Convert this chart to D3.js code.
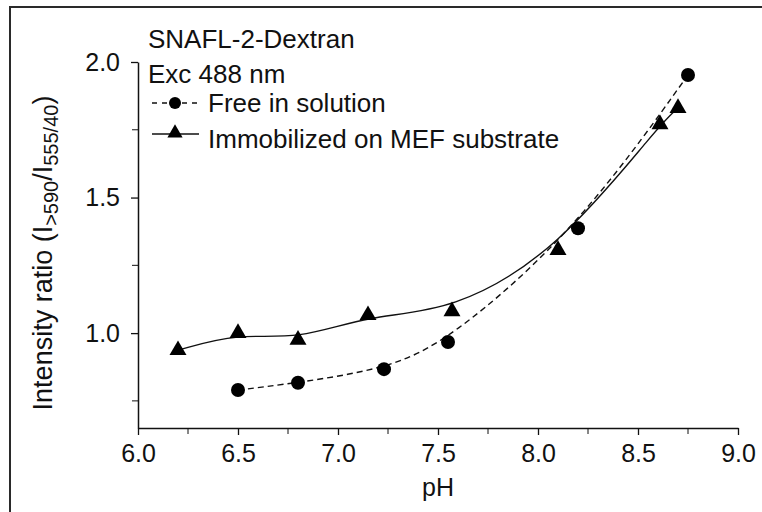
<!DOCTYPE html>
<html>
<head>
<meta charset="utf-8">
<script src="https://cdn.jsdelivr.net/npm/d3@7"></script>
<style>
  body { margin: 0; background: #fff; }
  svg text { font-family: "Liberation Sans", Arial, sans-serif; fill: #111; }
</style>
</head>
<body>
<div id="chart"></div>
<script>
// pH values and intensity ratios
const freePH = [6.5, 6.8, 7.23, 7.55, 8.2, 8.75];
const freeRatio = [0.79, 0.817, 0.867, 0.967, 1.387, 1.952];
const immPH = [6.2, 6.5, 6.8, 7.15, 7.57, 8.1, 8.61, 8.7];
const immRatio = [0.937, 1.0, 0.975, 1.066, 1.08, 1.306, 1.77, 1.83];

const xTicks = [6.0, 6.5, 7.0, 7.5, 8.0, 8.5, 9.0];
const xMinor = [6.25, 6.75, 7.25, 7.75, 8.25, 8.75];
const yTicks = [1.0, 1.5, 2.0];
const yMinor = [0.75, 1.25, 1.75];

const width = 762, height = 512;
const fs = 25; // tick / title text size
const legFs = 26;

const svg = d3.select('#chart').append('svg')
  .attr('width', width)
  .attr('height', height);

// outer frame (top and left only)
svg.append('path')
  .attr('d', 'M10,513 L10,7 L762,7')
  .attr('fill', 'none')
  .attr('stroke', '#2a2a2a')
  .attr('stroke-width', 2);

const x = d3.scaleLinear().domain([6.0, 9.0]).range([138, 738]);
const y = d3.scaleLinear().domain([0.65, 2.0]).range([428, 62]);

// x axis
const xAxis = svg.append('g')
  .attr('transform', `translate(0,${y(0.65)})`)
  .call(d3.axisBottom(x).tickValues(xTicks).tickFormat(d3.format('.1f')).tickSize(7).tickSizeOuter(0));
xAxis.append('g').selectAll('line')
  .data(xMinor).enter().append('line')
  .attr('x1', d => x(d)).attr('x2', d => x(d))
  .attr('y1', 0).attr('y2', 6)
  .attr('stroke', '#111');

// y axis
const yAxis = svg.append('g')
  .attr('transform', `translate(${x(6.0)},0)`)
  .call(d3.axisLeft(y).tickValues(yTicks).tickFormat(d3.format('.1f')).tickSize(7).tickSizeOuter(0));
yAxis.append('g').selectAll('line')
  .data(yMinor).enter().append('line')
  .attr('y1', d => y(d)).attr('y2', d => y(d))
  .attr('x1', 0).attr('x2', -6)
  .attr('stroke', '#111');

[xAxis, yAxis].forEach(ax => {
  ax.select('.domain').attr('stroke', '#111').attr('stroke-width', 1.5);
  ax.selectAll('.tick line').attr('stroke', '#111').attr('stroke-width', 1.3);
  ax.selectAll('.tick text')
    .attr('font-size', fs)
    .attr('font-family', '"Liberation Sans", Arial, sans-serif')
    .attr('fill', '#111');
});
xAxis.selectAll('.tick text').attr('y', 34).attr('dy', 0);
yAxis.selectAll('.tick text').attr('x', -18);

// axis titles
svg.append('text')
  .attr('x', x(7.5))
  .attr('y', 496)
  .attr('text-anchor', 'middle')
  .attr('font-size', fs)
  .text('pH');

const yTitle = svg.append('text')
  .attr('transform', `translate(52,253) rotate(-90)`)
  .attr('text-anchor', 'middle')
  .attr('font-size', 27);
yTitle.append('tspan').text('Intensity ratio (I');
yTitle.append('tspan').attr('font-size', 20).attr('dy', 6).text('>590');
yTitle.append('tspan').attr('dy', -6).text('/I');
yTitle.append('tspan').attr('font-size', 20).attr('dy', 6).text('555/40');
yTitle.append('tspan').attr('dy', -6).text(')');

// curves
const line = d3.line().x(d => x(d[0])).y(d => y(d[1])).curve(d3.curveBasis);
const freePts = freePH.map((p, i) => [p, freeRatio[i]]);
const immPts = immPH.map((p, i) => [p, immRatio[i]]);

svg.append('path')
  .attr('d', line(immPts))
  .attr('fill', 'none')
  .attr('stroke', '#111')
  .attr('stroke-width', 1.4);

svg.append('path')
  .attr('d', line(freePts))
  .attr('fill', 'none')
  .attr('stroke', '#111')
  .attr('stroke-width', 1.4)
  .attr('stroke-dasharray', '6,4');

const tri = d3.symbol().type(d3.symbolTriangle).size(125);

svg.append('g').selectAll('path')
  .data(immPts).enter().append('path')
  .attr('d', tri)
  .attr('transform', d => `translate(${x(d[0])},${y(d[1])})`)
  .attr('fill', '#000');

svg.append('g').selectAll('circle')
  .data(freePts).enter().append('circle')
  .attr('cx', d => x(d[0]))
  .attr('cy', d => y(d[1]))
  .attr('r', 7)
  .attr('fill', '#000');

// legend
svg.append('text').attr('x', 148).attr('y', 48).attr('font-size', legFs).text('SNAFL-2-Dextran');
svg.append('text').attr('x', 148).attr('y', 83).attr('font-size', legFs).text('Exc 488 nm');

svg.append('line')
  .attr('x1', 152).attr('x2', 199).attr('y1', 103).attr('y2', 103)
  .attr('stroke', '#111').attr('stroke-width', 1.5).attr('stroke-dasharray', '5,5');
svg.append('circle').attr('cx', 175).attr('cy', 103).attr('r', 6).attr('fill', '#000');
svg.append('text').attr('x', 208).attr('y', 112).attr('font-size', legFs).text('Free in solution');

svg.append('line')
  .attr('x1', 152).attr('x2', 199).attr('y1', 134).attr('y2', 134)
  .attr('stroke', '#111').attr('stroke-width', 1.5);
svg.append('path')
  .attr('d', d3.symbol().type(d3.symbolTriangle).size(100))
  .attr('transform', 'translate(175,133)')
  .attr('fill', '#000');
svg.append('text').attr('x', 208).attr('y', 148).attr('font-size', legFs).text('Immobilized on MEF substrate');
</script>
</body>
</html>
